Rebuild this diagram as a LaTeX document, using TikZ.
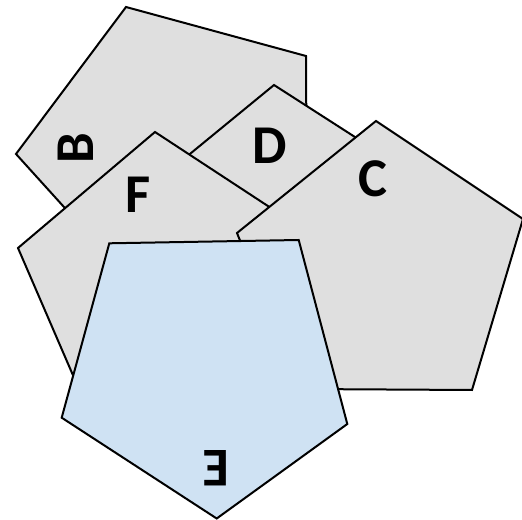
\documentclass[tikz,border=0pt]{standalone}
\usepackage{fontspec}
\setmainfont{Carlito}
\begin{document}
\begin{tikzpicture}[x=0.75pt,y=-0.75pt,
  tile/.style={draw=black,line width=1.5pt,line join=miter},
  greytile/.style={tile,fill=tilegrey},
  bluetile/.style={tile,fill=tileblue},
  letter/.style={inner sep=0pt,outer sep=0pt,font=\fontsize{41}{41}\selectfont\bfseries}]
\definecolor{tilegrey}{HTML}{DFDFDF}
\definecolor{tileblue}{HTML}{CFE2F3}
\useasboundingbox (0,0) rectangle (522,520);

% pentagons, back to front
\path[greytile] (126,7) -- (306,56) -- (307,246) -- (140,291) -- (16,154) -- cycle;   % B
\path[greytile] (274,85) -- (425,182) -- (380,356) -- (200,367) -- (135,199) -- cycle; % D
\path[greytile] (155,132) -- (306,231) -- (261,403) -- (88,410) -- (18,248) -- cycle;  % F
\path[greytile] (376,121) -- (523,219) -- (472,390) -- (300,389) -- (237,233) -- cycle; % C
\path[bluetile] (109.3,243.3) -- (298.7,240) -- (347.3,424) -- (216.7,518.5) -- (61.7,417.7) -- cycle; % E

% letters
\node[letter,rotate=90]  (labB) at (76,148.5)  {B};
\node[letter]            (labD) at (270,145.5) {D};
\node[letter]            (labF) at (138,194.5) {F};
\node[letter]            (labC) at (372.5,178.5) {C};
\node[letter,rotate=180] (labE) at (215.7,468) {E};
\end{tikzpicture}
\end{document}
